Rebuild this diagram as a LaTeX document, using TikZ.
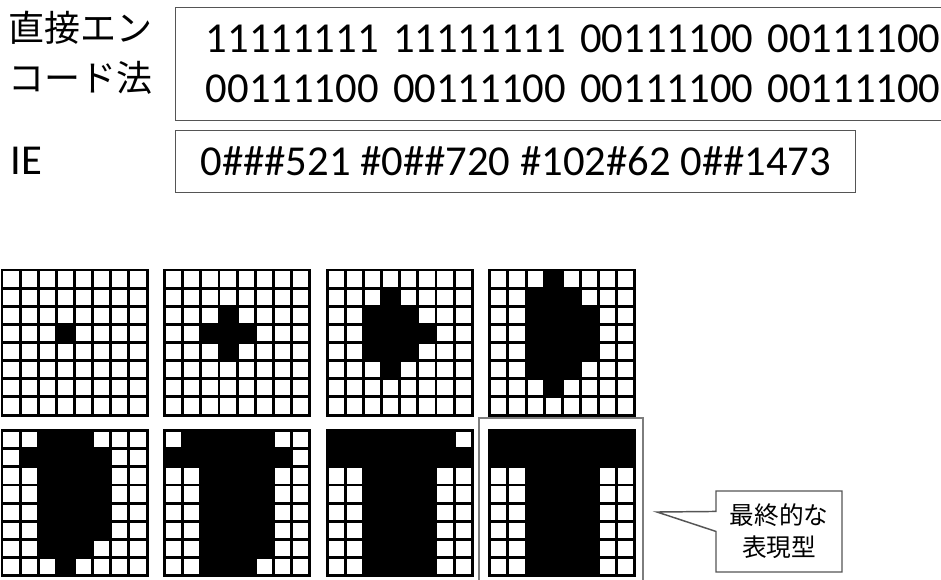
\documentclass[tikz,border=0pt]{standalone}
\usepackage{fontspec}
\usepackage{tikz}
\usetikzlibrary{positioning, shapes.callouts, calc}
\setmainfont{Carlito}
\newfontfamily\jpfont{Noto Sans CJK JP}
\definecolor{boxline}{RGB}{85, 85, 85}
\definecolor{framegray}{RGB}{125, 125, 125}

% #1 grid node, #2 black runs as row/first col/last col
\newcommand{\bitgrid}[2]{%
  \begin{scope}[shift={(#1.north west)}, x=13.6pt, y=-13.6pt]
    \foreach \r/\a/\b in {#2} \fill (\a,\r) rectangle (\b+1,\r+1);
    \foreach \i in {0,...,8} {
      \draw[cell] (\i,0) -- (\i,8);
      \draw[cell] (0,\i) -- (8,\i);
    }
  \end{scope}}

\begin{document}
\begin{tikzpicture}[
  x=0.75pt, y=-0.75pt,
  node distance=11.25pt and 12.75pt,
  codebox/.style={draw=boxline, line width=1.1pt, inner sep=0pt, anchor=north west,
                  font=\fontsize{32}{37.5}\selectfont},
  lbl/.style={inner sep=0pt, anchor=north west},
  gridbox/.style={minimum size=108.8pt, inner sep=0pt, anchor=north west},
  cell/.style={line width=2.2pt, line cap=rect},
  finalframe/.style={draw=framegray, line width=1.4pt},
  note/.style={rectangle callout, draw=boxline, line width=1.1pt, fill=white,
               callout pointer width=15pt, align=center,
               font=\jpfont\fontsize{18.5}{24}\selectfont},
]
  \fill[white] (0,0) rectangle (941,579);
  \useasboundingbox (0,0) rectangle (941,579);
  \clip (0,0) rectangle (941,579);

  % encodings
  \node[lbl, align=left, font=\jpfont\fontsize{27}{37.5}\selectfont] (dlabel) at (8,11) {直接エン\\コード法};
  \node[codebox, text width=620pt, inner xsep=22.5pt, minimum height=84.75pt, align=left] (direct) at (175,7)
    {11111111 11111111 00111100 00111100\\00111100 00111100 00111100 00111100};
  \node[lbl, anchor=west, font=\fontsize{32}{37.5}\selectfont] (ielabel) at (10,161) {IE};
  \node[codebox, minimum width=510pt, minimum height=46.5pt] (ie) at (175,130)
    {0\#\#\#521 \#0\#\#720 \#102\#62 0\#\#1473};

  % development steps
  \node[gridbox] (g1) at (2,270) {};
  \node[gridbox, right=of g1] (g2) {};
  \node[gridbox, right=of g2] (g3) {};
  \node[gridbox, right=of g3] (g4) {};
  \node[gridbox, below=of g1] (g5) {};
  \node[gridbox, below=of g2] (g6) {};
  \node[gridbox, below=of g3] (g7) {};
  \node[gridbox, below=of g4] (g8) {};

  \bitgrid{g1}{3/3/3}
  \bitgrid{g2}{2/3/3, 3/2/4, 4/3/3}
  \bitgrid{g3}{1/3/3, 2/2/4, 3/2/5, 4/2/4, 5/3/3}
  \bitgrid{g4}{0/3/3, 1/2/4, 2/2/5, 3/2/5, 4/2/5, 5/2/4, 6/3/3}
  \bitgrid{g5}{0/2/4, 1/1/5, 2/2/5, 3/2/5, 4/2/5, 5/2/5, 6/2/4, 7/3/3}
  \bitgrid{g6}{0/1/5, 1/0/6, 2/2/5, 3/2/5, 4/2/5, 5/2/5, 6/2/5, 7/2/4}
  \bitgrid{g7}{0/0/6, 1/0/7, 2/2/5, 3/2/5, 4/2/5, 5/2/5, 6/2/5, 7/2/5}
  \bitgrid{g8}{0/0/7, 1/0/7, 2/2/5, 3/2/5, 4/2/5, 5/2/5, 6/2/5, 7/2/5}

  \draw[finalframe] ($(g8.north west)+(-11,-13)$) rectangle ($(g8.south east)+(8,20)$);

  \coordinate (tip) at (657,512);
  \node[note, minimum width=94.5pt, minimum height=60.75pt, callout absolute pointer={(tip)}] (final)
    at (779,531.5) {最終的な\\表現型};
\end{tikzpicture}
\end{document}
